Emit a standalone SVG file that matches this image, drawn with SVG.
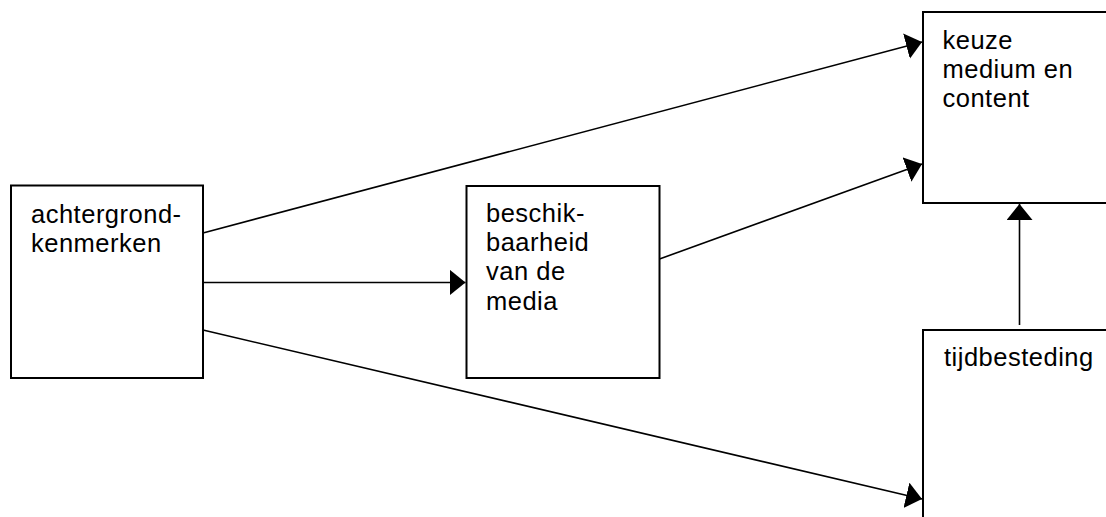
<svg xmlns="http://www.w3.org/2000/svg" width="1106" height="517" viewBox="0 0 1106 517">
  <style>
    .box { fill: #fff; stroke: #000; stroke-width: 2; }
    .lbl { font-family: "Liberation Sans", Arial, sans-serif; font-size: 25.5px; letter-spacing: 0.5px; fill: #000; }
    .edge { fill: none; stroke: #000; stroke-width: 1.6; marker-end: url(#head); }
  </style>
  <defs>
    <marker id="head" markerUnits="userSpaceOnUse" markerWidth="17" markerHeight="26" refX="16" refY="13" orient="auto" viewBox="0 0 17 26">
      <path d="M0,0 L16,13 L0,26 Z" fill="#000"/>
    </marker>
  </defs>
  <rect width="1106" height="517" fill="#fff"/>

  <g id="achtergrondkenmerken">
    <rect class="box" x="11" y="185.5" width="192" height="192.5"/>
    <text class="lbl" x="31" y="223">achtergrond-</text>
    <text class="lbl" x="31" y="251.5">kenmerken</text>
  </g>

  <g id="beschikbaarheid">
    <rect class="box" x="466.5" y="186" width="193" height="192"/>
    <text class="lbl" x="486" y="221.5">beschik-</text>
    <text class="lbl" x="486" y="251">baarheid</text>
    <text class="lbl" x="486" y="280">van de</text>
    <text class="lbl" x="486" y="309.5">media</text>
  </g>

  <g id="keuze">
    <rect class="box" x="923" y="12" width="200" height="191"/>
    <text class="lbl" x="942.5" y="48.5">keuze</text>
    <text class="lbl" x="942.5" y="77.5">medium en</text>
    <text class="lbl" x="942.5" y="106.5">content</text>
  </g>

  <g id="tijdbesteding">
    <rect class="box" x="923" y="330" width="200" height="200"/>
    <text class="lbl" x="944" y="366">tijdbesteding</text>
  </g>

  <g id="connectors">
    <line class="edge" x1="203" y1="233" x2="922" y2="42"/>
    <line class="edge" x1="203" y1="282.5" x2="465.5" y2="282.5"/>
    <line class="edge" x1="203" y1="330" x2="922" y2="499"/>
    <line class="edge" x1="659.5" y1="259" x2="922" y2="164"/>
    <line class="edge" x1="1019.5" y1="325" x2="1019.5" y2="204"/>
  </g>
</svg>
